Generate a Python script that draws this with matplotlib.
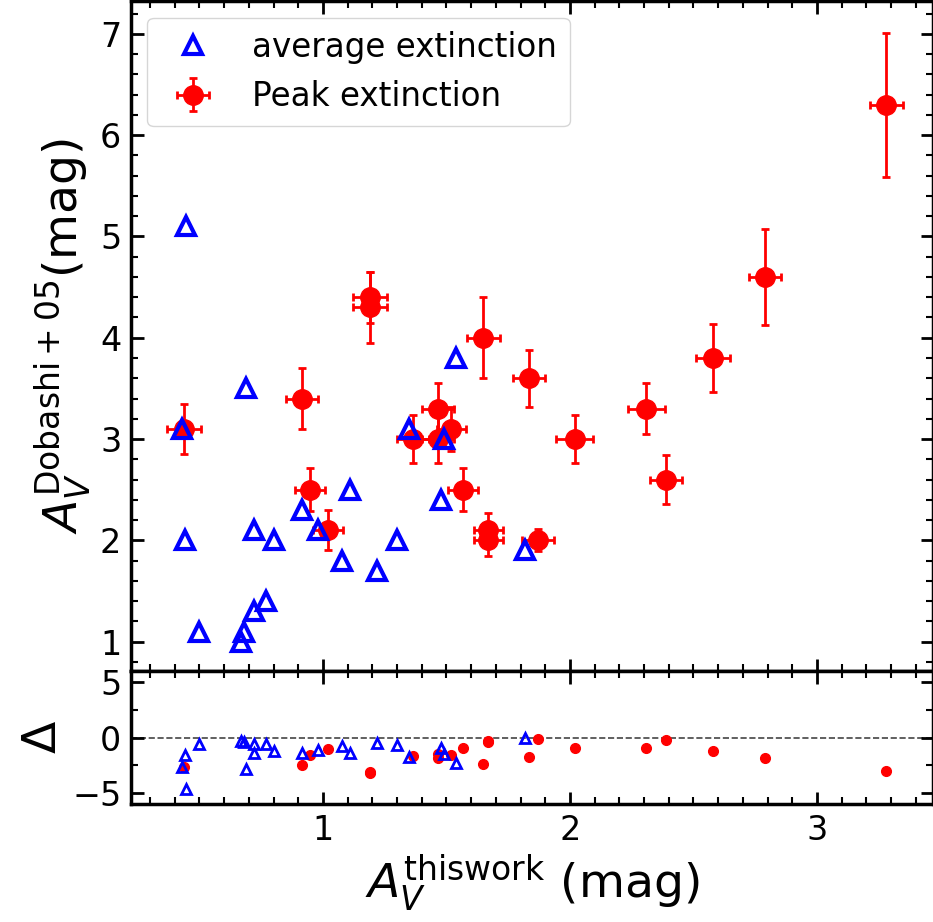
import matplotlib
matplotlib.use('Agg')
import matplotlib.pyplot as plt
import numpy as np
from matplotlib.ticker import MultipleLocator

# average extinction (blue triangles)
avg_this = [0.445, 0.69, 0.43, 1.35, 0.44, 0.50, 0.67, 0.68, 0.72, 0.77, 0.72,
            0.80, 0.915, 0.98, 1.11, 1.077, 1.22, 1.30, 1.54, 1.49, 1.48, 1.82]
avg_dob = [5.1, 3.5, 3.1, 3.1, 2.0, 1.1, 1.0, 1.1, 1.3, 1.4, 2.1,
           2.0, 2.3, 2.1, 2.5, 1.8, 1.7, 2.0, 3.8, 3.0, 2.4, 1.9]

# peak extinction (red circles with errors)
peak_this = [0.437, 0.915, 0.947, 1.02, 1.19, 1.19, 1.365, 1.467, 1.467, 1.52, 1.567,
             1.65, 1.67, 1.67, 1.835, 1.87, 2.02, 2.31, 2.39, 2.58, 2.79, 3.28]
peak_dob = [3.1, 3.4, 2.5, 2.1, 4.4, 4.3, 3.0, 3.3, 3.0, 3.1, 2.5,
            4.0, 2.1, 2.0, 3.6, 2.0, 3.0, 3.3, 2.6, 3.8, 4.6, 6.3]
peak_this_err = [0.07, 0.065, 0.06, 0.06, 0.07, 0.07, 0.065, 0.065, 0.065, 0.06, 0.06,
                 0.065, 0.06, 0.06, 0.065, 0.065, 0.075, 0.075, 0.065, 0.07, 0.065, 0.067]
peak_dob_err = [0.25, 0.3, 0.21, 0.2, 0.25, 0.35, 0.24, 0.25, 0.24, 0.22, 0.21,
                0.4, 0.17, 0.15, 0.28, 0.11, 0.24, 0.25, 0.24, 0.34, 0.47, 0.71]

avg_this = np.array(avg_this)
avg_dob = np.array(avg_dob)
peak_this = np.array(peak_this)
peak_dob = np.array(peak_dob)

fig = plt.figure(figsize=(9.33, 9.22), dpi=100)
ax = fig.add_axes([0.1404, 0.2722, 0.8596, 0.7263])
axr = fig.add_axes([0.1404, 0.128, 0.8596, 0.1442], sharex=ax)

ax.errorbar(peak_this, peak_dob, xerr=peak_this_err, yerr=peak_dob_err, fmt='o',
            color='red', ms=14, elinewidth=2, capsize=3, capthick=2,
            label='Peak extinction', zorder=2)
ax.plot(avg_this, avg_dob, '^', color='blue', mfc='none', ms=12.5, mew=3,
        label='average extinction', zorder=3)
ax.legend(loc='upper left', fontsize=23.5)

axr.axhline(0, color='#444444', ls='--', lw=1.2, zorder=1)
axr.plot(peak_this, peak_this - peak_dob, 'o', color='red', ms=7, zorder=2)
axr.plot(avg_this, avg_this - avg_dob, '^', color='blue', mfc='none', ms=6.5,
         mew=2, zorder=3)

ax.set_xlim(0.223, 3.47)
ax.set_ylim(0.71, 7.32)
axr.set_ylim(-6, 6)

ax.xaxis.set_major_locator(MultipleLocator(1))
ax.xaxis.set_minor_locator(MultipleLocator(0.1))
ax.yaxis.set_major_locator(MultipleLocator(1))
ax.yaxis.set_minor_locator(MultipleLocator(0.2))
axr.yaxis.set_major_locator(MultipleLocator(5))
axr.yaxis.set_minor_locator(MultipleLocator(2.5))

for a in (ax, axr):
    a.tick_params(which='both', direction='in', top=True, right=True,
                  labelsize=24, pad=7)
    a.tick_params(which='major', length=9, width=2)
    a.tick_params(which='minor', length=5, width=1.5)
    for s in a.spines.values():
        s.set_linewidth(2.5)
ax.tick_params(labelbottom=False)

ax.set_ylabel(r'$A_V^{\rm Dobashi+05}$(mag)', fontsize=34)
axr.set_ylabel(r'$\Delta$', fontsize=34)
axr.set_xlabel(r'$A_V^{\rm this work}$ (mag)', fontsize=34)

fig.savefig('out.png', dpi=100)
